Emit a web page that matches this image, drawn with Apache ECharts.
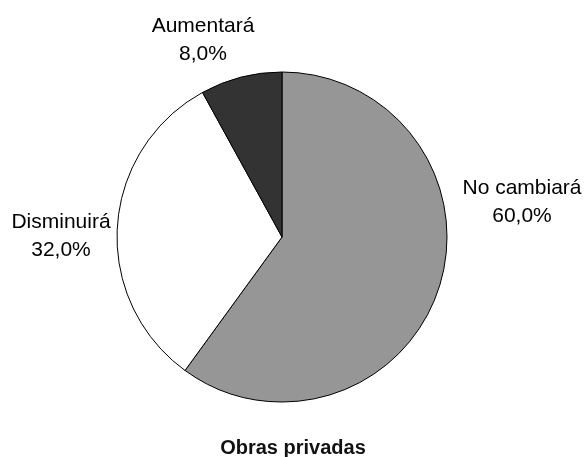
<!DOCTYPE html>
<html><head><meta charset="utf-8">
<script src="https://cdn.jsdelivr.net/npm/echarts@6/dist/echarts.min.js"></script>
<style>html,body{margin:0;padding:0;background:#fff}#c{width:585px;height:457px}</style>
</head><body><div id="c"></div>
<script>
var categories = ['No cambiará', 'Disminuirá', 'Aumentará'];
var values = [60.0, 32.0, 8.0];
var colors = ['#969696', '#ffffff', '#333333'];
var title = 'Obras privadas';

// label anchor placement (layout only)
var labelAnchors = [[522, 202], [61, 236], [203, 40]];

var chart = echarts.init(document.getElementById('c'), null, {renderer: 'canvas'});
var font = 'Liberation Sans, Arial, sans-serif';
chart.setOption({
  animation: false,
  title: {
    text: title, left: 288, textAlign: 'center', top: 433,
    textStyle: {fontFamily: font, fontSize: 20, fontWeight: 'bold', color: '#111'}
  },
  series: [{
    type: 'pie',
    center: [282, 237],
    radius: 165,
    startAngle: 90,
    clockwise: true,
    avoidLabelOverlap: false,
    itemStyle: {borderColor: '#000', borderWidth: 1},
    label: {
      show: true, position: 'outside',
      fontFamily: font, fontSize: 21, color: '#000', lineHeight: 28, align: 'center',
      formatter: function (p) { return p.name + '\n' + p.value.toFixed(1).replace('.', ',') + '%'; }
    },
    labelLine: {show: false},
    labelLayout: function (params) {
      var a = labelAnchors[params.dataIndex];
      return {x: a[0], y: a[1], align: 'center', verticalAlign: 'middle'};
    },
    emphasis: {disabled: true},
    data: categories.map(function (n, i) {
      return {name: n, value: values[i], itemStyle: {color: colors[i]}};
    })
  }]
});
</script></body></html>
